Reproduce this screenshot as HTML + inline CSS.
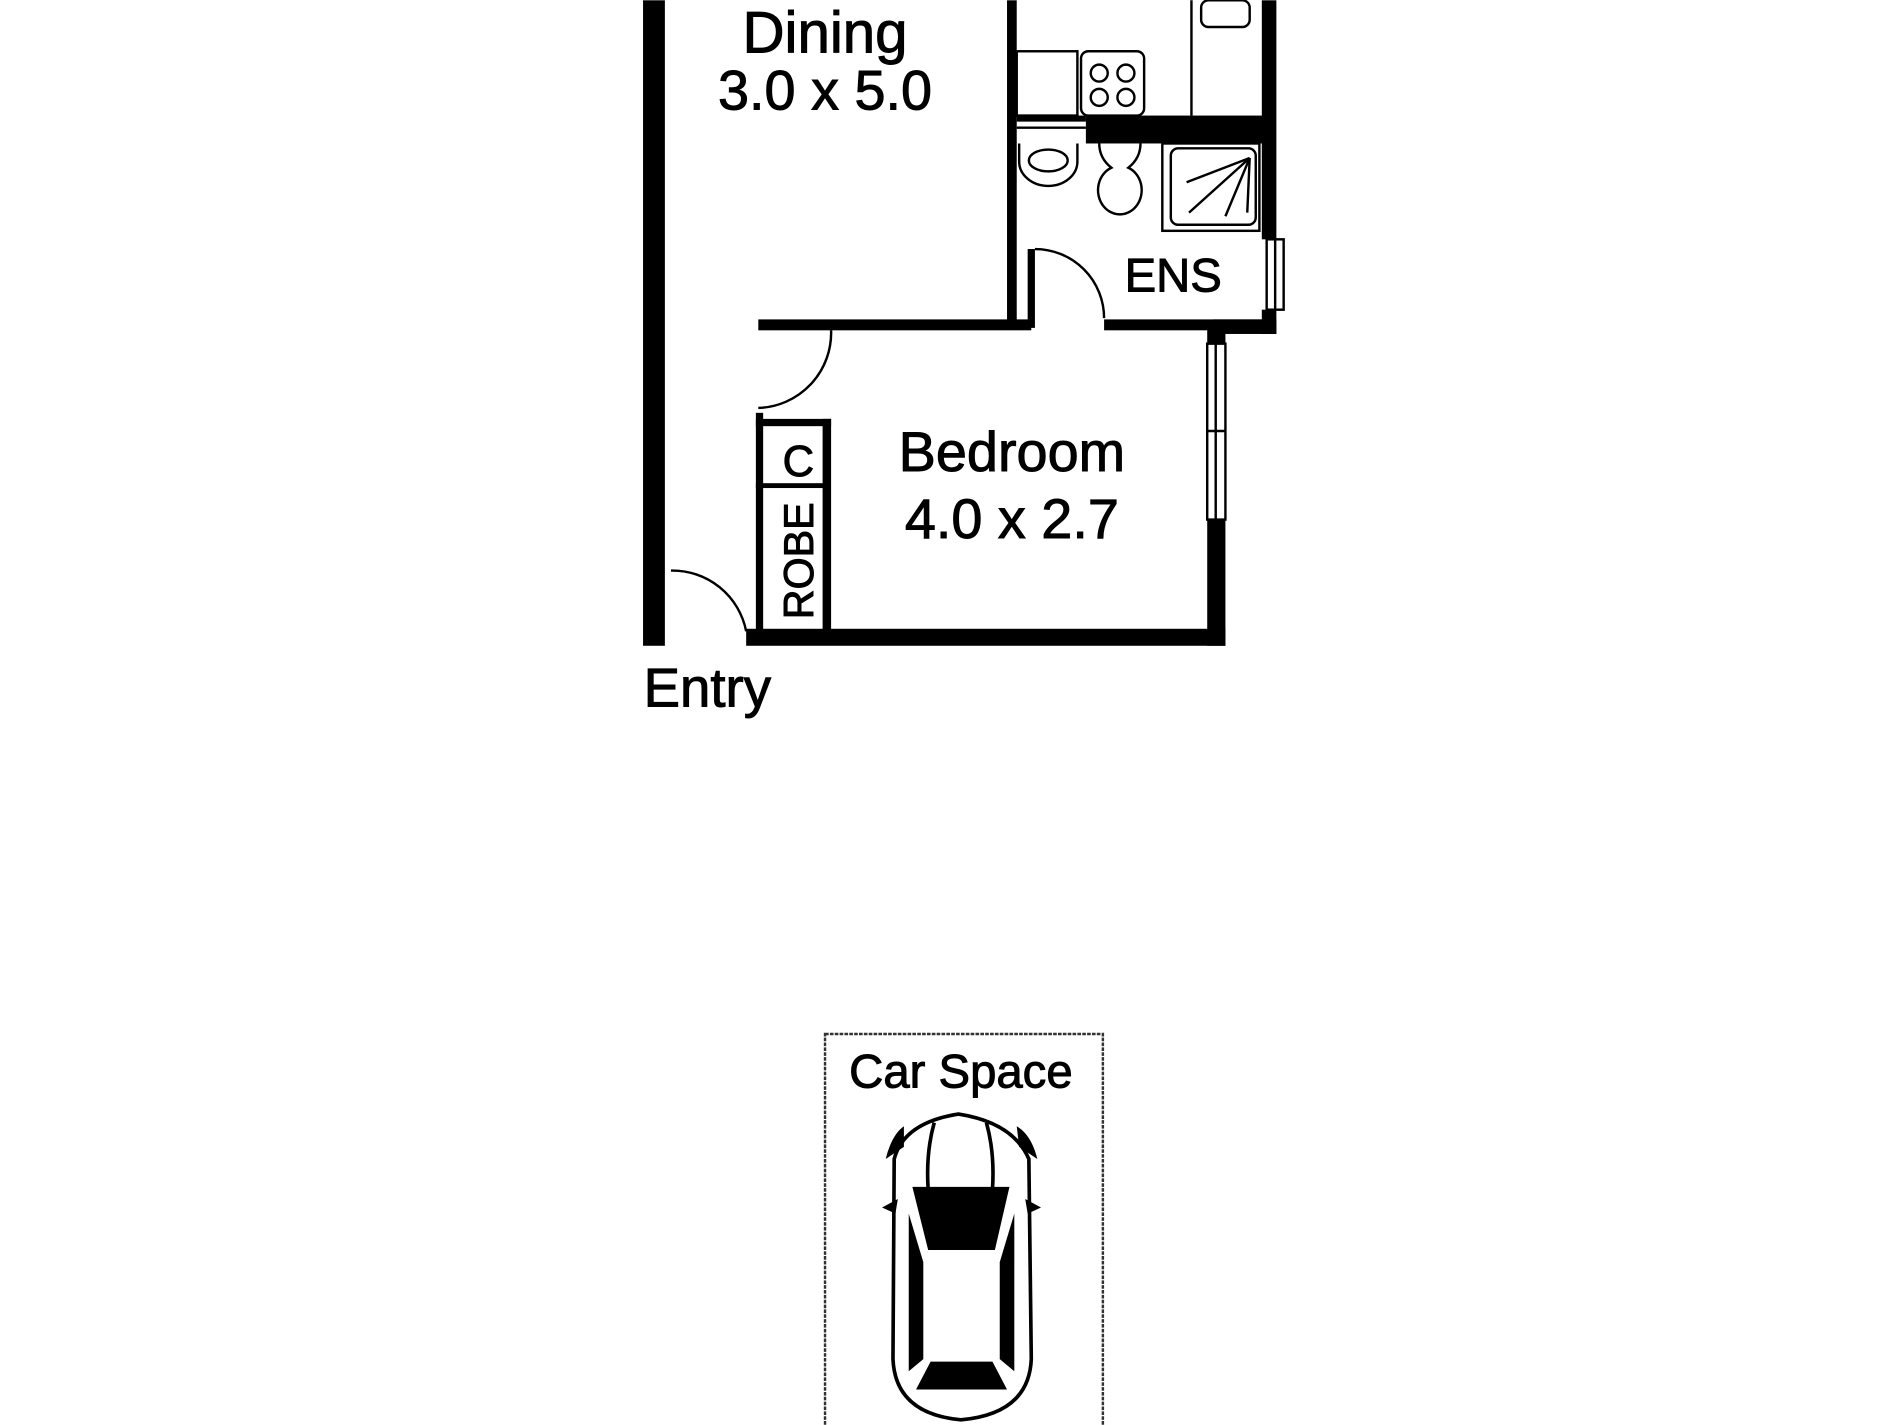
<!DOCTYPE html>
<html><head><meta charset="utf-8"><style>html,body{margin:0;padding:0;background:#fff;}svg{display:block;}</style></head>
<body>
<svg width="1900" height="1425" viewBox="0 0 1566 1174" xmlns="http://www.w3.org/2000/svg" font-family="Liberation Sans, sans-serif">
<rect width="1566" height="1174" fill="#fff"/>
<g fill="#000">
<rect x="530" y="0" width="18" height="532"/>
<rect x="615" y="518" width="395" height="14"/>
<rect x="995" y="265" width="15" height="18"/>
<rect x="995" y="428" width="15" height="104"/>
<rect x="625" y="263" width="225" height="9"/>
<rect x="910" y="263" width="140" height="9"/>
<rect x="1000" y="263" width="52" height="12"/>
<rect x="830" y="0" width="8" height="268"/>
<rect x="847" y="205" width="6" height="65"/>
<rect x="1040" y="0" width="12" height="197"/>
<rect x="1040" y="255" width="12" height="20"/>
<rect x="895" y="95" width="150" height="23"/>
<rect x="838" y="95" width="57" height="5"/>
<rect x="623" y="340" width="6" height="182"/>
<rect x="623" y="345" width="62" height="6"/>
<rect x="678" y="345" width="7" height="175"/>
<rect x="623" y="398" width="60" height="4"/>
</g>
<g fill="none" stroke="#000" stroke-width="2">
<line x1="982" y1="0" x2="982" y2="95"/>
<rect x="838" y="42" width="50" height="53"/>
<rect x="891" y="42" width="52" height="53" rx="6"/>
<circle cx="906" cy="60" r="7"/><circle cx="928" cy="60" r="7"/>
<circle cx="906" cy="80" r="7"/><circle cx="928" cy="80" r="7"/>
<rect x="990" y="0" width="40" height="22" rx="6"/>
<line x1="838" y1="105" x2="895" y2="105"/>
<path d="M840 118 v15 a24 20 0 0 0 48 0 v-15"/>
<ellipse cx="864" cy="132" rx="16" ry="9"/>
<path d="M906 118 q0 12 10 20 a18 20 0 1 0 14 0 q10 -8 10 -20"/>
<rect x="958" y="118" width="80" height="72"/>
<rect x="965" y="122" width="70" height="63" rx="6"/>
<line x1="1030" y1="130" x2="978" y2="150"/>
<line x1="1030" y1="130" x2="980" y2="175"/>
<line x1="1030" y1="130" x2="1010" y2="178"/>
<line x1="1030" y1="130" x2="1028" y2="175"/>
<path d="M853 205 A57 57 0 0 1 910 262"/>
<path d="M685 272 A62 62 0 0 1 625 336"/>
<path d="M553 470 A62 62 0 0 1 615 520"/>
<rect x="1044" y="197" width="14" height="58"/>
<line x1="1051" y1="197" x2="1051" y2="255"/>
<rect x="995" y="283" width="15" height="145"/>
<line x1="1002" y1="283" x2="1002" y2="428"/>
<line x1="995" y1="355" x2="1010" y2="355"/>
</g>
<g fill="#000" stroke="#000" stroke-width="0.8" text-anchor="middle">
<text x="680" y="43" font-size="48">Dining</text>
<text x="680" y="90" font-size="46">3.0 x 5.0</text>
<text x="834" y="388" font-size="46">Bedroom</text>
<text x="834" y="443" font-size="46">4.0 x 2.7</text>
<text x="967" y="240" font-size="39">ENS</text>
<text x="583" y="582" font-size="45">Entry</text>
<text x="658" y="392" font-size="36">C</text>
<text transform="translate(670 462) rotate(-90)" font-size="34">ROBE</text>
<text x="792" y="896" font-size="39">Car Space</text>
</g>
<rect x="680" y="852" width="229" height="330" fill="none" stroke="#333" stroke-width="2" stroke-dasharray="3 1"/>
<g stroke="#000" stroke-width="3" fill="none">
<path d="M737 955 Q745 925 790 918 Q835 925 848 955 L850 1120 Q848 1165 792 1170 Q738 1165 736 1120 Z"/>
<path d="M770 925 Q763 950 765 980 M813 925 Q820 950 818 980"/>
</g>
<g fill="#000">
<path d="M752 978 L832 978 L820 1030 L765 1030 Z"/>
<path d="M749 1000 L761 1040 L761 1120 L749 1130 Z"/>
<path d="M836 1000 L824 1040 L824 1120 L836 1130 Z"/>
<path d="M767 1122 L818 1122 L830 1145 L755 1145 Z"/>
<path d="M745 928 Q735 935 730 955 L745 945 Z"/>
<path d="M838 928 Q850 935 855 955 L840 945 Z"/>
<path d="M740 988 L727 995 L738 1000 Z"/>
<path d="M845 988 L858 995 L847 1000 Z"/>
</g>
</svg>
</body></html>
